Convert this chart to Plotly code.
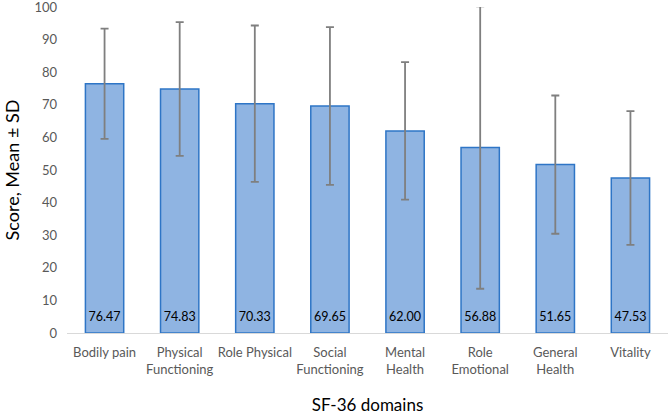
import plotly.graph_objects as go

categories = ["Bodily pain", "Physical<br>Functioning", "Role Physical", "Social<br>Functioning",
              "Mental<br>Health", "Role<br>Emotional", "General<br>Health", "Vitality"]
means = [76.47, 74.83, 70.33, 69.65, 62.00, 56.88, 51.65, 47.53]
sds = [16.9, 20.5, 24.0, 24.2, 21.1, 43.3, 21.2, 20.5]
labels = [f"{v:.2f}" for v in means]
y_ticks = [0, 10, 20, 30, 40, 50, 60, 70, 80, 90, 100]
LABEL_Y = 4.6  # data-label height inside each bar (axis units)

font_family = "Lato, 'Open Sans', sans-serif"

fig = go.Figure()
fig.add_trace(go.Bar(
    x=categories, y=means,
    marker=dict(color="#8fb4e2", line=dict(color="#2e75c6", width=1.5)),
    error_y=dict(type="data", array=sds, visible=True, color="#7f7f7f", thickness=1.8, width=4),
    hoverinfo="skip",
))
fig.add_trace(go.Scatter(
    x=categories, y=[LABEL_Y] * len(categories), mode="text", text=labels,
    textposition="middle center",
    textfont=dict(size=12.5, color="#000000", family=font_family),
    hoverinfo="skip",
))

fig.update_layout(
    width=669, height=415,
    margin=dict(l=67, r=1, t=7, b=82),
    plot_bgcolor="white", paper_bgcolor="white",
    bargap=0.49,
    showlegend=False,
    font=dict(family=font_family, color="#595959", size=13),
    xaxis=dict(
        showline=True, linecolor="#d9d9d9", linewidth=1, ticks="",
        tickfont=dict(size=13, color="#595959"), automargin=False, ticklabelstandoff=7,
        title=dict(text="SF-36 domains", font=dict(size=17, color="#000000"), standoff=27),
    ),
    yaxis=dict(
        range=[0, 100], tickvals=y_ticks, showgrid=False, zeroline=False,
        showline=False, ticks="", ticklen=0, ticklabelstandoff=9, automargin=False,
        ticklabeloverflow="allow",
        tickfont=dict(size=13, color="#595959"),
        title=dict(text="Score, Mean ± SD", font=dict(size=18, color="#000000"), standoff=10),
    ),
)

fig.write_html("out.html", config={"displayModeBar": False},
               post_script="document.body.style.margin='0';document.body.style.overflow='hidden';")
